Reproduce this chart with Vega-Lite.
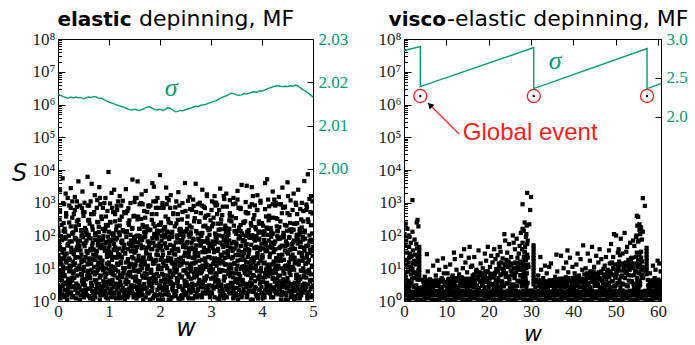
{
  "$schema": "https://vega.github.io/schema/vega-lite/v6.json",
  "background": "white",
  "padding": {"left": 11, "top": 8, "right": 0, "bottom": 0},
  "bounds": "flush",
  "spacing": 91,
  "config": {
    "view": {"stroke": null},
    "axis": {
      "grid": false,
      "domainColor": "#000",
      "domainWidth": 1,
      "tickColor": "#000",
      "tickWidth": 1,
      "labelFont": "Liberation Serif",
      "labelFontSize": 17,
      "labelColor": "#222",
      "labelFlush": false,
      "labelOverlap": false,
      "labelBound": false,
      "titleFont": "DejaVu Sans",
      "titleFontStyle": "italic",
      "titleFontWeight": "normal",
      "titleFontSize": 24,
      "titleColor": "#000"
    }
  },
  "hconcat": [
    {
      "width": 255,
      "height": 262,
      "layer": [
        {
          "layer": [
            {
              "data": {
                "values": "w,S\n0,3.1\n0,160\n0.01,24\n0.01,1.4\n0.02,1.9\n0.02,62\n0.03,8.5\n0.03,310\n0.04,45\n0.04,2.3\n0.05,1.2\n0.05,17\n0.06,5.6\n0.06,95\n0.07,13\n0.07,1.6\n0.08,72\n0.08,4.2\n0.09,2.8\n0.09,30\n0.1,11\n0.1,7.4\n0.11,1.5\n0.11,240\n0.12,38\n0.12,19\n0.13,6.2\n0.13,1.3\n0.14,2.1\n0.14,130\n0.15,90\n0.15,3.3\n0.16,15\n0.16,480\n0.17,3.7\n0.17,28\n0.18,1.1\n0.18,10\n0.19,52\n0.19,2\n0.2,4.8\n0.2,55\n0.21,20\n0.21,3.9\n0.22,1.7\n0.22,820\n0.23,66\n0.23,12\n0.24,9.3\n0.24,1.8\n0.25,2.6\n0.25,190\n0.26,31\n0.26,42\n0.27,1.3\n0.27,5.1\n0.28,115\n0.28,350\n0.29,7\n0.29,16\n0.3,1.4\n0.3,125\n0.31,27\n0.31,8\n0.32,5.2\n0.32,2.7\n0.33,14\n0.33,600\n0.34,2.2\n0.34,21\n0.35,80\n0.35,1.2\n0.36,3.4\n0.36,75\n0.37,43\n0.37,270\n0.38,10\n0.38,6\n0.39,1.8\n0.39,36\n0.4,57\n0.4,3\n0.41,2.5\n0.41,210\n0.42,12\n0.42,48\n0.43,1.1\n0.43,9.5\n0.44,35\n0.44,1.5\n0.45,6.8\n0.45,140\n0.46,98\n0.46,26\n0.47,4.1\n0.47,700\n0.48,18\n0.48,4.6\n0.49,1.6\n0.49,88\n0.5,8.2\n0.5,400\n0.51,1.3\n0.51,11\n0.52,47\n0.52,1.7\n0.53,3\n0.53,170\n0.54,22\n0.54,60\n0.55,1.9\n0.55,2.2\n0.56,70\n0.56,33\n0.57,5.7\n0.57,105\n0.58,13\n0.58,7.8\n0.59,2.4\n0.59,290\n0.6,105\n0.6,14\n0.61,6.4\n0.61,1.4\n0.62,16\n0.62,230\n0.63,1.2\n0.63,5\n0.64,39\n0.64,82\n0.65,3.6\n0.65,450\n0.66,9\n0.66,2.9\n0.67,2\n0.67,19\n0.68,61\n0.68,150\n0.69,26\n0.69,1.1\n0.7,1.5\n0.7,37\n0.71,11\n0.71,520\n0.72,4.4\n0.72,6.5\n0.73,73\n0.73,1.3\n0.74,2.3\n0.74,115\n0.75,29\n0.75,24\n0.76,7.2\n0.76,3.2\n0.77,1.8\n0.77,260\n0.78,50\n0.78,9\n0.79,15\n0.79,68\n0.8,3.3\n0.8,180\n0.81,88\n0.81,2.4\n0.82,1.1\n0.82,45\n0.83,21\n0.83,900\n0.84,6\n0.84,10\n0.85,41\n0.85,1.9\n0.86,2.7\n0.86,320\n0.87,12\n0.87,17\n0.88,1.6\n0.88,78\n0.89,95\n0.89,4\n0.9,9.8\n0.9,1.5\n0.91,2.1\n0.91,135\n0.92,34\n0.92,7\n0.93,5.3\n0.93,58\n0.94,1.3\n0.94,380\n0.95,64\n0.95,3\n0.96,14\n0.96,22\n0.97,3.8\n0.97,1.2\n0.98,25\n0.98,200\n0.99,1.7\n0.99,40\n1,68\n1,15\n1.01,9\n1.01,50\n1.02,260\n1.02,1.8\n1.03,3.2\n1.03,7.2\n1.04,24\n1.04,29\n1.05,115\n1.05,2.3\n1.06,1.3\n1.06,73\n1.07,6.5\n1.07,4.4\n1.08,520\n1.08,11\n1.09,37\n1.09,1.5\n1.1,36\n1.1,1.8\n1.11,6\n1.11,10\n1.12,270\n1.12,43\n1.13,75\n1.13,3.4\n1.14,1.2\n1.14,80\n1.15,21\n1.15,2.2\n1.16,600\n1.16,14\n1.17,2.7\n1.17,5.2\n1.18,8\n1.18,27\n1.19,125\n1.19,1.4\n1.2,40\n1.2,1.7\n1.21,200\n1.21,25\n1.22,1.2\n1.22,3.8\n1.23,22\n1.23,14\n1.24,3\n1.24,64\n1.25,380\n1.25,1.3\n1.26,58\n1.26,5.3\n1.27,7\n1.27,34\n1.28,135\n1.28,2.1\n1.29,1.5\n1.29,9.8\n1.3,2\n1.3,52\n1.31,10\n1.31,1.1\n1.32,28\n1.32,3.7\n1.33,480\n1.33,15\n1.34,3.3\n1.34,90\n1.35,130\n1.35,2.1\n1.36,1.3\n1.36,6.2\n1.37,19\n1.37,38\n1.38,240\n1.38,1.5\n1.39,7.4\n1.39,11\n1.4,290\n1.4,2.4\n1.41,7.8\n1.41,13\n1.42,105\n1.42,5.7\n1.43,33\n1.43,70\n1.44,2.2\n1.44,1.9\n1.45,60\n1.45,22\n1.46,170\n1.46,3\n1.47,1.7\n1.47,47\n1.48,11\n1.48,1.3\n1.49,400\n1.49,8.2\n1.5,30\n1.5,2.8\n1.51,4.2\n1.51,72\n1.52,1.6\n1.52,13\n1.53,95\n1.53,5.6\n1.54,17\n1.54,1.2\n1.55,2.3\n1.55,45\n1.56,310\n1.56,8.5\n1.57,62\n1.57,1.9\n1.58,1.4\n1.58,24\n1.59,160\n1.59,3.1\n1.6,4\n1.6,95\n1.61,78\n1.61,1.6\n1.62,17\n1.62,12\n1.63,320\n1.63,2.7\n1.64,1.9\n1.64,41\n1.65,10\n1.65,6\n1.66,900\n1.66,21\n1.67,45\n1.67,1.1\n1.68,2.4\n1.68,88\n1.69,180\n1.69,3.3\n1.7,16\n1.7,7\n1.71,350\n1.71,115\n1.72,5.1\n1.72,1.3\n1.73,42\n1.73,31\n1.74,190\n1.74,2.6\n1.75,1.8\n1.75,9.3\n1.76,12\n1.76,66\n1.77,820\n1.77,1.7\n1.78,3.9\n1.78,20\n1.79,55\n1.79,4.8\n1.8,1.1\n1.8,26\n1.81,150\n1.81,61\n1.82,19\n1.82,2\n1.83,2.9\n1.83,9\n1.84,450\n1.84,3.6\n1.85,82\n1.85,39\n1.86,5\n1.86,1.2\n1.87,230\n1.87,16\n1.88,1.4\n1.88,6.4\n1.89,14\n1.89,105\n1.9,88\n1.9,1.6\n1.91,4.6\n1.91,18\n1.92,700\n1.92,4.1\n1.93,26\n1.93,98\n1.94,140\n1.94,6.8\n1.95,1.5\n1.95,35\n1.96,9.5\n1.96,1.1\n1.97,48\n1.97,12\n1.98,210\n1.98,2.5\n1.99,3\n1.99,57\n2,1.6\n2,3\n2.01,18\n2.01,210\n2.02,4.1\n2.02,48\n2.03,98\n2.03,9.5\n2.04,6.8\n2.04,1.5\n2.05,35\n2.05,140\n2.06,1.1\n2.06,26\n2.07,12\n2.07,700\n2.08,2.5\n2.08,4.6\n2.09,57\n2.09,88\n2.1,95\n2.1,180\n2.11,1.6\n2.11,2.4\n2.12,12\n2.12,45\n2.13,2.7\n2.13,900\n2.14,41\n2.14,10\n2.15,6\n2.15,1.9\n2.16,21\n2.16,320\n2.17,1.1\n2.17,17\n2.18,88\n2.18,78\n2.19,3.3\n2.19,4\n2.2,52\n2.2,7.4\n2.21,1.1\n2.21,240\n2.22,3.7\n2.22,19\n2.23,15\n2.23,1.3\n2.24,90\n2.24,130\n2.25,2.1\n2.25,3.3\n2.26,6.2\n2.26,480\n2.27,38\n2.27,28\n2.28,1.5\n2.28,10\n2.29,11\n2.29,2\n2.3,26\n2.3,14\n2.31,61\n2.31,1.4\n2.32,2\n2.32,230\n2.33,9\n2.33,5\n2.34,3.6\n2.34,82\n2.35,39\n2.35,450\n2.36,1.2\n2.36,2.9\n2.37,16\n2.37,19\n2.38,6.4\n2.38,150\n2.39,105\n2.39,1.1\n2.4,2.8\n2.4,160\n2.41,72\n2.41,1.4\n2.42,13\n2.42,62\n2.43,5.6\n2.43,310\n2.44,1.2\n2.44,2.3\n2.45,45\n2.45,17\n2.46,8.5\n2.46,95\n2.47,1.9\n2.47,1.6\n2.48,24\n2.48,4.2\n2.49,3.1\n2.49,30\n2.5,1.7\n2.5,1.5\n2.51,25\n2.51,135\n2.52,3.8\n2.52,7\n2.53,14\n2.53,58\n2.54,64\n2.54,380\n2.55,1.3\n2.55,3\n2.56,5.3\n2.56,22\n2.57,34\n2.57,1.2\n2.58,2.1\n2.58,200\n2.59,9.8\n2.59,40\n2.6,1.8\n2.6,125\n2.61,10\n2.61,8\n2.62,43\n2.62,2.7\n2.63,3.4\n2.63,600\n2.64,80\n2.64,21\n2.65,2.2\n2.65,1.2\n2.66,14\n2.66,75\n2.67,5.2\n2.67,270\n2.68,27\n2.68,6\n2.69,1.4\n2.69,36\n2.7,15\n2.7,37\n2.71,50\n2.71,520\n2.72,1.8\n2.72,6.5\n2.73,7.2\n2.73,1.3\n2.74,29\n2.74,115\n2.75,2.3\n2.75,24\n2.76,73\n2.76,3.2\n2.77,4.4\n2.77,260\n2.78,11\n2.78,9\n2.79,1.5\n2.79,68\n2.8,7\n2.8,55\n2.81,115\n2.81,3.9\n2.82,1.3\n2.82,820\n2.83,31\n2.83,12\n2.84,2.6\n2.84,1.8\n2.85,9.3\n2.85,190\n2.86,66\n2.86,42\n2.87,1.7\n2.87,5.1\n2.88,20\n2.88,350\n2.89,4.8\n2.89,16\n2.9,2.4\n2.9,400\n2.91,13\n2.91,11\n2.92,5.7\n2.92,1.7\n2.93,70\n2.93,170\n2.94,1.9\n2.94,60\n2.95,22\n2.95,2.2\n2.96,3\n2.96,33\n2.97,47\n2.97,105\n2.98,1.3\n2.98,7.8\n2.99,8.2\n2.99,290\n3,4.8\n3,12\n3.01,20\n3.01,1.8\n3.02,1.7\n3.02,190\n3.03,66\n3.03,42\n3.04,9.3\n3.04,5.1\n3.05,2.6\n3.05,350\n3.06,31\n3.06,16\n3.07,1.3\n3.07,55\n3.08,115\n3.08,3.9\n3.09,7\n3.09,820\n3.1,105\n3.1,5\n3.11,6.4\n3.11,82\n3.12,16\n3.12,450\n3.13,1.2\n3.13,2.9\n3.14,39\n3.14,19\n3.15,3.6\n3.15,150\n3.16,9\n3.16,1.1\n3.17,2\n3.17,14\n3.18,61\n3.18,1.4\n3.19,26\n3.19,230\n3.2,3.1\n3.2,310\n3.21,24\n3.21,2.3\n3.22,1.9\n3.22,17\n3.23,8.5\n3.23,95\n3.24,45\n3.24,1.6\n3.25,1.2\n3.25,4.2\n3.26,5.6\n3.26,30\n3.27,13\n3.27,160\n3.28,72\n3.28,1.4\n3.29,2.8\n3.29,62\n3.3,8.2\n3.3,170\n3.31,1.3\n3.31,60\n3.32,47\n3.32,2.2\n3.33,3\n3.33,33\n3.34,22\n3.34,105\n3.35,1.9\n3.35,7.8\n3.36,70\n3.36,290\n3.37,5.7\n3.37,400\n3.38,13\n3.38,11\n3.39,2.4\n3.39,1.7\n3.4,9.8\n3.4,58\n3.41,2.1\n3.41,380\n3.42,34\n3.42,3\n3.43,5.3\n3.43,22\n3.44,1.3\n3.44,1.2\n3.45,64\n3.45,200\n3.46,14\n3.46,40\n3.47,3.8\n3.47,1.5\n3.48,25\n3.48,135\n3.49,1.7\n3.49,7\n3.5,57\n3.5,9.5\n3.51,2.5\n3.51,1.5\n3.52,12\n3.52,140\n3.53,1.1\n3.53,26\n3.54,35\n3.54,700\n3.55,6.8\n3.55,4.6\n3.56,98\n3.56,88\n3.57,4.1\n3.57,3\n3.58,18\n3.58,210\n3.59,1.6\n3.59,48\n3.6,1.5\n3.6,1.3\n3.61,11\n3.61,115\n3.62,4.4\n3.62,24\n3.63,73\n3.63,3.2\n3.64,2.3\n3.64,260\n3.65,29\n3.65,9\n3.66,7.2\n3.66,68\n3.67,1.8\n3.67,37\n3.68,50\n3.68,520\n3.69,15\n3.69,6.5\n3.7,11\n3.7,1.3\n3.71,1.5\n3.71,130\n3.72,38\n3.72,3.3\n3.73,6.2\n3.73,480\n3.74,2.1\n3.74,28\n3.75,90\n3.75,10\n3.76,15\n3.76,2\n3.77,3.7\n3.77,7.4\n3.78,1.1\n3.78,240\n3.79,52\n3.79,19\n3.8,3.3\n3.8,900\n3.81,88\n3.81,10\n3.82,1.1\n3.82,1.9\n3.83,21\n3.83,320\n3.84,6\n3.84,17\n3.85,41\n3.85,78\n3.86,2.7\n3.86,4\n3.87,12\n3.87,180\n3.88,1.6\n3.88,2.4\n3.89,95\n3.89,45\n3.9,1.4\n3.9,600\n3.91,27\n3.91,21\n3.92,5.2\n3.92,1.2\n3.93,14\n3.93,75\n3.94,2.2\n3.94,270\n3.95,80\n3.95,6\n3.96,3.4\n3.96,36\n3.97,43\n3.97,125\n3.98,10\n3.98,8\n3.99,1.8\n3.99,2.7\n4,1.7\n4,22\n4.01,25\n4.01,1.2\n4.02,3.8\n4.02,200\n4.03,14\n4.03,40\n4.04,64\n4.04,1.5\n4.05,1.3\n4.05,135\n4.06,5.3\n4.06,7\n4.07,34\n4.07,58\n4.08,2.1\n4.08,380\n4.09,9.8\n4.09,3\n4.1,2.4\n4.1,33\n4.11,13\n4.11,105\n4.12,5.7\n4.12,7.8\n4.13,70\n4.13,290\n4.14,1.9\n4.14,400\n4.15,22\n4.15,11\n4.16,3\n4.16,1.7\n4.17,47\n4.17,170\n4.18,1.3\n4.18,60\n4.19,8.2\n4.19,2.2\n4.2,7\n4.2,42\n4.21,115\n4.21,5.1\n4.22,1.3\n4.22,350\n4.23,31\n4.23,16\n4.24,2.6\n4.24,55\n4.25,9.3\n4.25,3.9\n4.26,66\n4.26,820\n4.27,1.7\n4.27,12\n4.28,20\n4.28,1.8\n4.29,4.8\n4.29,190\n4.3,95\n4.3,320\n4.31,1.6\n4.31,17\n4.32,12\n4.32,78\n4.33,2.7\n4.33,4\n4.34,41\n4.34,180\n4.35,6\n4.35,2.4\n4.36,21\n4.36,45\n4.37,1.1\n4.37,900\n4.38,88\n4.38,10\n4.39,3.3\n4.39,1.9\n4.4,1.6\n4.4,26\n4.41,18\n4.41,700\n4.42,4.1\n4.42,4.6\n4.43,98\n4.43,88\n4.44,6.8\n4.44,3\n4.45,35\n4.45,210\n4.46,1.1\n4.46,48\n4.47,12\n4.47,9.5\n4.48,2.5\n4.48,1.5\n4.49,57\n4.49,140\n4.5,52\n4.5,480\n4.51,1.1\n4.51,28\n4.52,3.7\n4.52,10\n4.53,15\n4.53,2\n4.54,90\n4.54,7.4\n4.55,2.1\n4.55,240\n4.56,6.2\n4.56,19\n4.57,38\n4.57,1.3\n4.58,1.5\n4.58,130\n4.59,11\n4.59,3.3\n4.6,26\n4.6,2.9\n4.61,61\n4.61,19\n4.62,2\n4.62,150\n4.63,9\n4.63,1.1\n4.64,3.6\n4.64,14\n4.65,39\n4.65,1.4\n4.66,1.2\n4.66,230\n4.67,16\n4.67,5\n4.68,6.4\n4.68,82\n4.69,105\n4.69,450\n4.7,2.8\n4.7,95\n4.71,72\n4.71,1.6\n4.72,13\n4.72,4.2\n4.73,5.6\n4.73,30\n4.74,1.2\n4.74,160\n4.75,45\n4.75,1.4\n4.76,8.5\n4.76,62\n4.77,1.9\n4.77,310\n4.78,24\n4.78,2.3\n4.79,3.1\n4.79,17\n4.8,1.8\n4.8,75\n4.81,10\n4.81,270\n4.82,43\n4.82,6\n4.83,3.4\n4.83,36\n4.84,80\n4.84,125\n4.85,2.2\n4.85,8\n4.86,14\n4.86,2.7\n4.87,5.2\n4.87,600\n4.88,27\n4.88,21\n4.89,1.4\n4.89,1.2\n4.9,15\n4.9,3.2\n4.91,50\n4.91,260\n4.92,1.8\n4.92,9\n4.93,7.2\n4.93,68\n4.94,29\n4.94,37\n4.95,2.3\n4.95,520\n4.96,73\n4.96,6.5\n4.97,4.4\n4.97,1.3\n4.98,11\n4.98,115\n4.99,1.5\n4.99,24\n5,3\n5,45\n0,112\n0.01,4.8\n0.02,60\n0.03,14\n0.04,2.5\n0.05,2\n0.06,38\n0.07,7.3\n0.08,20\n0.09,3.1\n0.1,9.5\n0.11,137\n0.12,5.7\n0.13,25\n0.14,2.2\n0.15,80\n0.16,3.5\n0.17,17\n0.18,1.5\n0.19,49\n0.2,2.7\n0.21,98\n0.22,8\n0.23,18\n0.24,3.4\n0.25,11.5\n0.26,1.8\n0.27,66\n0.28,4.2\n0.29,31\n0.3,5\n0.31,12.6\n0.32,2.8\n0.33,85\n0.34,36\n0.35,147\n0.36,9\n0.37,22\n0.38,1.7\n0.39,55\n0.4,41\n0.41,10\n0.42,2.5\n0.43,70\n0.44,21\n0.45,2.1\n0.46,15.4\n0.47,6.2\n0.48,102\n0.49,3.2\n0.5,57\n0.51,3.8\n0.52,17\n0.53,2.2\n0.54,133\n0.55,4.6\n0.56,123\n0.57,1.5\n0.58,29\n0.59,8.4\n0.6,90\n0.61,20\n0.62,5.3\n0.63,35\n0.64,2.4\n0.65,13.7\n0.66,2.9\n0.67,48\n0.68,7.4\n0.69,1.8\n0.7,1.7\n0.71,7.8\n0.72,18\n0.73,100\n0.74,3.9\n0.75,4.3\n0.76,34\n0.77,2.7\n0.78,12\n0.79,63\n0.8,126\n0.81,21\n0.82,5.2\n0.83,1.5\n0.84,73\n0.85,15\n0.86,2.1\n0.87,53\n0.88,8.7\n0.89,2.9\n0.9,3.6\n0.91,43\n0.92,1.8\n0.93,160\n0.94,9.8\n0.95,6.7\n0.96,28\n0.97,2.4\n0.98,92\n0.99,13\n1,31\n1.01,4.2\n1.02,66\n1.03,1.8\n1.04,11.5\n1.05,3.4\n1.06,18\n1.07,8\n1.08,98\n1.09,2.7\n1.1,55\n1.11,1.7\n1.12,22\n1.13,9\n1.14,147\n1.15,36\n1.16,85\n1.17,2.8\n1.18,12.6\n1.19,5\n1.2,3.2\n1.21,102\n1.22,6.2\n1.23,15.4\n1.24,2.1\n1.25,21\n1.26,70\n1.27,2.5\n1.28,10\n1.29,41\n1.3,8.4\n1.31,29\n1.32,1.5\n1.33,123\n1.34,4.6\n1.35,133\n1.36,2.2\n1.37,17\n1.38,3.8\n1.39,57\n1.4,1.8\n1.41,7.4\n1.42,48\n1.43,2.9\n1.44,13.7\n1.45,2.4\n1.46,35\n1.47,5.3\n1.48,20\n1.49,90\n1.5,63\n1.51,12\n1.52,2.7\n1.53,34\n1.54,4.3\n1.55,3.9\n1.56,100\n1.57,18\n1.58,7.8\n1.59,1.7\n1.6,2.9\n1.61,8.7\n1.62,53\n1.63,2.1\n1.64,15\n1.65,73\n1.66,1.5\n1.67,5.2\n1.68,21\n1.69,126\n1.7,13\n1.71,92\n1.72,2.4\n1.73,28\n1.74,6.7\n1.75,9.8\n1.76,160\n1.77,1.8\n1.78,43\n1.79,3.6\n1.8,3.1\n1.81,20\n1.82,7.3\n1.83,38\n1.84,2\n1.85,2.5\n1.86,14\n1.87,60\n1.88,4.8\n1.89,112\n1.9,49\n1.91,1.5\n1.92,17\n1.93,3.5\n1.94,80\n1.95,2.2\n1.96,25\n1.97,5.7\n1.98,137\n1.99,9.5\n2,41\n2.01,10\n2.02,2.5\n2.03,70\n2.04,21\n2.05,2.1\n2.06,15.4\n2.07,6.2\n2.08,102\n2.09,3.2\n2.1,57\n2.11,3.8\n2.12,17\n2.13,2.2\n2.14,133\n2.15,4.6\n2.16,123\n2.17,1.5\n2.18,29\n2.19,8.4\n2.2,90\n2.21,20\n2.22,5.3\n2.23,35\n2.24,2.4\n2.25,13.7\n2.26,2.9\n2.27,48\n2.28,7.4\n2.29,1.8\n2.3,1.7\n2.31,7.8\n2.32,18\n2.33,100\n2.34,3.9\n2.35,4.3\n2.36,34\n2.37,2.7\n2.38,12\n2.39,63\n2.4,126\n2.41,21\n2.42,5.2\n2.43,1.5\n2.44,73\n2.45,15\n2.46,2.1\n2.47,53\n2.48,8.7\n2.49,2.9\n2.5,3.6\n2.51,43\n2.52,1.8\n2.53,160\n2.54,9.8\n2.55,6.7\n2.56,28\n2.57,2.4\n2.58,92\n2.59,13\n2.6,112\n2.61,4.8\n2.62,60\n2.63,14\n2.64,2.5\n2.65,2\n2.66,38\n2.67,7.3\n2.68,20\n2.69,3.1\n2.7,9.5\n2.71,137\n2.72,5.7\n2.73,25\n2.74,2.2\n2.75,80\n2.76,3.5\n2.77,17\n2.78,1.5\n2.79,49\n2.8,2.7\n2.81,98\n2.82,8\n2.83,18\n2.84,3.4\n2.85,11.5\n2.86,1.8\n2.87,66\n2.88,4.2\n2.89,31\n2.9,5\n2.91,12.6\n2.92,2.8\n2.93,85\n2.94,36\n2.95,147\n2.96,9\n2.97,22\n2.98,1.7\n2.99,55\n3,1.8\n3.01,7.4\n3.02,48\n3.03,2.9\n3.04,13.7\n3.05,2.4\n3.06,35\n3.07,5.3\n3.08,20\n3.09,90\n3.1,63\n3.11,12\n3.12,2.7\n3.13,34\n3.14,4.3\n3.15,3.9\n3.16,100\n3.17,18\n3.18,7.8\n3.19,1.7\n3.2,2.9\n3.21,8.7\n3.22,53\n3.23,2.1\n3.24,15\n3.25,73\n3.26,1.5\n3.27,5.2\n3.28,21\n3.29,126\n3.3,13\n3.31,92\n3.32,2.4\n3.33,28\n3.34,6.7\n3.35,9.8\n3.36,160\n3.37,1.8\n3.38,43\n3.39,3.6\n3.4,3.1\n3.41,20\n3.42,7.3\n3.43,38\n3.44,2\n3.45,2.5\n3.46,14\n3.47,60\n3.48,4.8\n3.49,112\n3.5,49\n3.51,1.5\n3.52,17\n3.53,3.5\n3.54,80\n3.55,2.2\n3.56,25\n3.57,5.7\n3.58,137\n3.59,9.5\n3.6,31\n3.61,4.2\n3.62,66\n3.63,1.8\n3.64,11.5\n3.65,3.4\n3.66,18\n3.67,8\n3.68,98\n3.69,2.7\n3.7,55\n3.71,1.7\n3.72,22\n3.73,9\n3.74,147\n3.75,36\n3.76,85\n3.77,2.8\n3.78,12.6\n3.79,5\n3.8,3.2\n3.81,102\n3.82,6.2\n3.83,15.4\n3.84,2.1\n3.85,21\n3.86,70\n3.87,2.5\n3.88,10\n3.89,41\n3.9,8.4\n3.91,29\n3.92,1.5\n3.93,123\n3.94,4.6\n3.95,133\n3.96,2.2\n3.97,17\n3.98,3.8\n3.99,57\n4,126\n4.01,21\n4.02,5.2\n4.03,1.5\n4.04,73\n4.05,15\n4.06,2.1\n4.07,53\n4.08,8.7\n4.09,2.9\n4.1,3.6\n4.11,43\n4.12,1.8\n4.13,160\n4.14,9.8\n4.15,6.7\n4.16,28\n4.17,2.4\n4.18,92\n4.19,13\n4.2,112\n4.21,4.8\n4.22,60\n4.23,14\n4.24,2.5\n4.25,2\n4.26,38\n4.27,7.3\n4.28,20\n4.29,3.1\n4.3,9.5\n4.31,137\n4.32,5.7\n4.33,25\n4.34,2.2\n4.35,80\n4.36,3.5\n4.37,17\n4.38,1.5\n4.39,49\n4.4,2.7\n4.41,98\n4.42,8\n4.43,18\n4.44,3.4\n4.45,11.5\n4.46,1.8\n4.47,66\n4.48,4.2\n4.49,31\n4.5,5\n4.51,12.6\n4.52,2.8\n4.53,85\n4.54,36\n4.55,147\n4.56,9\n4.57,22\n4.58,1.7\n4.59,55\n4.6,41\n4.61,10\n4.62,2.5\n4.63,70\n4.64,21\n4.65,2.1\n4.66,15.4\n4.67,6.2\n4.68,102\n4.69,3.2\n4.7,57\n4.71,3.8\n4.72,17\n4.73,2.2\n4.74,133\n4.75,4.6\n4.76,123\n4.77,1.5\n4.78,29\n4.79,8.4\n4.8,90\n4.81,20\n4.82,5.3\n4.83,35\n4.84,2.4\n4.85,13.7\n4.86,2.9\n4.87,48\n4.88,7.4\n4.89,1.8\n4.9,1.7\n4.91,7.8\n4.92,18\n4.93,100\n4.94,3.9\n4.95,4.3\n4.96,34\n4.97,2.7\n4.98,12\n4.99,63\n0.01,130\n0.04,560\n0.07,210\n0.1,980\n0.13,160\n0.16,380\n0.19,1400\n0.22,250\n0.25,700\n0.28,115\n0.31,450\n0.34,190\n0.37,1100\n0.4,300\n0.43,820\n0.46,145\n0.49,520\n0.52,520\n0.55,145\n0.58,820\n0.61,300\n0.64,1100\n0.67,190\n0.7,450\n0.73,115\n0.76,700\n0.79,250\n0.82,1400\n0.85,380\n0.88,160\n0.91,980\n0.94,210\n0.97,560\n1,130\n1.03,250\n1.06,700\n1.09,115\n1.12,450\n1.15,190\n1.18,1100\n1.21,300\n1.24,820\n1.27,145\n1.3,520\n1.33,130\n1.36,560\n1.39,210\n1.42,980\n1.45,160\n1.48,380\n1.51,1400\n1.54,1400\n1.57,380\n1.6,160\n1.63,980\n1.66,210\n1.69,560\n1.72,130\n1.75,520\n1.78,145\n1.81,820\n1.84,300\n1.87,1100\n1.9,190\n1.93,450\n1.96,115\n1.99,700\n2.02,250\n2.05,980\n2.08,160\n2.11,380\n2.14,1400\n2.17,250\n2.2,700\n2.23,115\n2.26,450\n2.29,190\n2.32,1100\n2.35,300\n2.38,820\n2.41,145\n2.44,520\n2.47,130\n2.5,560\n2.53,240\n2.56,105\n2.59,640\n2.62,175\n2.65,1250\n2.68,340\n2.71,135\n2.74,900\n2.77,270\n2.8,480\n2.83,120\n2.86,760\n2.89,200\n2.92,1600\n2.95,420\n2.98,155\n3.01,600\n3.04,230\n3.07,1000\n3.1,1000\n3.13,230\n3.16,600\n3.19,155\n3.22,420\n3.25,1600\n3.28,200\n3.31,760\n3.34,120\n3.37,480\n3.4,270\n3.43,900\n3.46,135\n3.49,340\n3.52,1250\n3.55,175\n3.58,640\n3.61,105\n3.64,240\n3.67,270\n3.7,480\n3.73,120\n3.76,760\n3.79,200\n3.82,1600\n3.85,420\n3.88,155\n3.91,600\n3.94,230\n3.97,1000\n4,240\n4.03,105\n4.06,640\n4.09,175\n4.12,1250\n4.15,340\n4.18,135\n4.21,900\n4.24,1250\n4.27,340\n4.3,135\n4.33,900\n4.36,270\n4.39,480\n4.42,120\n4.45,760\n4.48,200\n4.51,1600\n4.54,420\n4.57,155\n4.6,600\n4.63,230\n4.66,1000\n4.69,240\n4.72,105\n4.75,640\n4.78,175\n4.81,560\n4.84,140\n4.87,880\n4.9,310\n4.93,1300\n4.96,205\n4.99,470\n0.09,5600\n0.58,6200\n0.4,4500\n0.66,3800\n0.99,8700\n1.1,2500\n1.46,5100\n1.56,4500\n1.85,4000\n2,7000\n2.49,4000\n2.7,3800\n3.6,3500\n3.7,3300\n4.06,4000\n4.1,5200\n4.5,4200\n4.83,4600\n4.9,7400\n0.15,1900\n0.25,2800\n0.33,1500\n0.48,2200\n0.72,1700\n0.81,3000\n0.93,1400\n1.05,2000\n1.21,1600\n1.33,2600\n1.64,1800\n1.72,2300\n1.95,1400\n2.12,2900\n2.21,1700\n2.36,2100\n2.58,1500\n2.83,2500\n2.92,1800\n3.07,1600\n3.18,2700\n3.3,1900\n3.44,1400\n3.52,2300\n3.8,3000\n3.91,1700\n4.21,2200\n4.33,1500\n4.4,2900\n4.62,1900\n4.71,2500\n4.96,1600\n0.04,2400\n1.88,3100\n3.26,1300\n0.12,900\n0.28,1100\n0.37,750\n0.52,1000\n0.61,820\n0.77,1200\n0.88,700\n1.02,950\n1.15,800\n1.27,1150\n1.38,680\n1.5,1050\n1.6,900\n1.78,760\n1.92,1100\n2.05,850\n2.17,1200\n2.3,720\n2.44,980\n2.55,1150\n2.66,800\n2.78,1000\n2.88,690\n3.02,1100\n3.12,870\n3.23,760\n3.37,1200\n3.48,940\n3.58,700\n3.68,1050\n3.86,830\n3.97,1150\n4.14,780\n4.27,1000\n4.45,720\n4.56,1180\n4.67,860\n4.78,990\n4.88,740\n4.99,1100",
                "format": {"type": "csv", "parse": {"w": "number", "S": "number"}}
              },
              "mark": {"type": "point", "shape": "square", "filled": true, "size": 18, "color": "#000", "opacity": 1, "strokeWidth": 0, "clip": true},
              "encoding": {
                "x": {
                  "field": "w", "type": "quantitative",
                  "scale": {"domain": [0, 5], "nice": false, "zero": false},
                  "axis": {"orient": "bottom", "values": [0, 1, 2, 3, 4, 5], "tickSize": -6, "labelPadding": 8.5, "title": "w", "titleBaseline": "middle", "titleY": 27}
                },
                "y": {
                  "field": "S", "type": "quantitative",
                  "scale": {"type": "log", "domain": [1, 100000000], "nice": false},
                  "axis": {
                    "orient": "left",
                    "values": [1,2,3,4,5,6,7,8,9,10,20,30,40,50,60,70,80,90,100,200,300,400,500,600,700,800,900,1000,2000,3000,4000,5000,6000,7000,8000,9000,10000,20000,30000,40000,50000,60000,70000,80000,90000,100000,200000,300000,400000,500000,600000,700000,800000,900000,1000000,2000000,3000000,4000000,5000000,6000000,7000000,8000000,9000000,10000000,20000000,30000000,40000000,50000000,60000000,70000000,80000000,90000000,100000000],
                    "labelExpr": "abs(log(datum.value)/LN10-round(log(datum.value)/LN10))<0.001 ? '10'+['⁰','¹','²','³','⁴','⁵','⁶','⁷','⁸'][round(log(datum.value)/LN10)] : ''",
                    "tickSize": {"condition": {"test": "abs(log(datum.value)/LN10-round(log(datum.value)/LN10))<0.001", "value": -7}, "value": -3.5},
                    "labelPadding": 10,
                    "title": "S",
                    "titleAngle": 0,
                    "titleAlign": "center",
                    "titleBaseline": "middle",
                    "titleX": -39,
                    "titleY": 134
                  }
                }
              }
            },
            {
              "data": {"values": [{}]},
              "mark": {"type": "text", "font": "DejaVu Sans", "fontWeight": "bold", "fontSize": 20, "align": "right", "baseline": "alphabetic", "dx": -2.5, "color": "#000"},
              "encoding": {
                "x": {"datum": 1.49, "type": "quantitative", "scale": {"domain": [0, 5], "nice": false, "zero": false}},
                "y": {"datum": 249000000, "type": "quantitative", "scale": {"type": "log", "domain": [1, 100000000], "nice": false}},
                "text": {"value": "elastic"}
              }
            },
            {
              "data": {"values": [{}]},
              "mark": {"type": "text", "font": "DejaVu Sans", "fontSize": 22, "align": "left", "baseline": "alphabetic", "dx": 5, "color": "#000"},
              "encoding": {
                "x": {"datum": 1.49, "type": "quantitative", "scale": {"domain": [0, 5], "nice": false, "zero": false}},
                "y": {"datum": 249000000, "type": "quantitative", "scale": {"type": "log", "domain": [1, 100000000], "nice": false}},
                "text": {"value": "depinning, MF"}
              }
            }
          ]
        },
        {
          "layer": [
            {
              "data": {"values": [
                {"w":0,"sigma":2.0172},{"w":0.05,"sigma":2.017},{"w":0.1,"sigma":2.0167},{"w":0.15,"sigma":2.0165},{"w":0.2,"sigma":2.0163},{"w":0.25,"sigma":2.0166},{"w":0.3,"sigma":2.0164},{"w":0.35,"sigma":2.0166},{"w":0.4,"sigma":2.0164},{"w":0.45,"sigma":2.0165},
                {"w":0.5,"sigma":2.0162},{"w":0.55,"sigma":2.0164},{"w":0.6,"sigma":2.0166},{"w":0.65,"sigma":2.0165},{"w":0.7,"sigma":2.0167},{"w":0.75,"sigma":2.0166},{"w":0.8,"sigma":2.0163},{"w":0.85,"sigma":2.0164},{"w":0.9,"sigma":2.016},{"w":0.95,"sigma":2.0157},
                {"w":1,"sigma":2.0154},{"w":1.05,"sigma":2.0152},{"w":1.1,"sigma":2.015},{"w":1.15,"sigma":2.0148},{"w":1.2,"sigma":2.0146},{"w":1.25,"sigma":2.0144},{"w":1.3,"sigma":2.0142},{"w":1.35,"sigma":2.0139},{"w":1.4,"sigma":2.0137},{"w":1.45,"sigma":2.0136},
                {"w":1.5,"sigma":2.0138},{"w":1.55,"sigma":2.0136},{"w":1.6,"sigma":2.0135},{"w":1.65,"sigma":2.0137},{"w":1.7,"sigma":2.014},{"w":1.75,"sigma":2.0143},{"w":1.8,"sigma":2.0143},{"w":1.85,"sigma":2.014},{"w":1.9,"sigma":2.0137},{"w":1.95,"sigma":2.0136},
                {"w":2,"sigma":2.0138},{"w":2.05,"sigma":2.0135},{"w":2.1,"sigma":2.0137},{"w":2.15,"sigma":2.0141},{"w":2.2,"sigma":2.014},{"w":2.25,"sigma":2.0136},{"w":2.3,"sigma":2.0132},{"w":2.35,"sigma":2.0133},{"w":2.4,"sigma":2.0135},{"w":2.45,"sigma":2.0134},
                {"w":2.5,"sigma":2.0137},{"w":2.55,"sigma":2.0139},{"w":2.6,"sigma":2.014},{"w":2.65,"sigma":2.0143},{"w":2.7,"sigma":2.0145},{"w":2.75,"sigma":2.0144},{"w":2.8,"sigma":2.0147},{"w":2.85,"sigma":2.0148},{"w":2.9,"sigma":2.0149},{"w":2.95,"sigma":2.0152},
                {"w":3,"sigma":2.0153},{"w":3.05,"sigma":2.0156},{"w":3.1,"sigma":2.0157},{"w":3.15,"sigma":2.0161},{"w":3.2,"sigma":2.0164},{"w":3.25,"sigma":2.0167},{"w":3.3,"sigma":2.0169},{"w":3.35,"sigma":2.0172},{"w":3.4,"sigma":2.0175},{"w":3.45,"sigma":2.0174},
                {"w":3.5,"sigma":2.0171},{"w":3.55,"sigma":2.017},{"w":3.6,"sigma":2.0171},{"w":3.65,"sigma":2.0174},{"w":3.7,"sigma":2.0173},{"w":3.75,"sigma":2.0175},{"w":3.8,"sigma":2.0177},{"w":3.85,"sigma":2.0178},{"w":3.9,"sigma":2.0177},{"w":3.95,"sigma":2.018},
                {"w":4,"sigma":2.018},{"w":4.05,"sigma":2.0182},{"w":4.1,"sigma":2.0185},{"w":4.15,"sigma":2.0187},{"w":4.2,"sigma":2.0189},{"w":4.25,"sigma":2.0191},{"w":4.3,"sigma":2.0192},{"w":4.35,"sigma":2.0191},{"w":4.4,"sigma":2.019},{"w":4.45,"sigma":2.0191},
                {"w":4.5,"sigma":2.019},{"w":4.55,"sigma":2.0192},{"w":4.6,"sigma":2.0191},{"w":4.65,"sigma":2.0193},{"w":4.7,"sigma":2.0192},{"w":4.75,"sigma":2.0187},{"w":4.8,"sigma":2.0183},{"w":4.85,"sigma":2.018},{"w":4.9,"sigma":2.0176},{"w":4.95,"sigma":2.0171},
                {"w":5,"sigma":2.0166}
              ]},
              "mark": {"type": "line", "color": "#009E73", "strokeWidth": 1.4},
              "encoding": {
                "x": {
                  "field": "w", "type": "quantitative",
                  "scale": {"domain": [0, 5], "nice": false, "zero": false},
                  "axis": {"orient": "top", "values": [0, 1, 2, 3, 4, 5], "labels": false, "tickSize": -6, "title": null}
                },
                "y": {
                  "field": "sigma", "type": "quantitative",
                  "scale": {"domain": [1.9695, 2.03], "nice": false, "zero": false},
                  "axis": {"orient": "right", "values": [2, 2.01, 2.02, 2.03], "format": ".2f", "tickSize": -6, "labelPadding": 11, "labelColor": "#009E73", "title": null}
                }
              }
            },
            {
              "data": {"values": [{}]},
              "mark": {"type": "text", "font": "Liberation Serif", "fontStyle": "italic", "fontSize": 26, "align": "center", "baseline": "middle", "color": "#009E73"},
              "encoding": {
                "x": {"datum": 2.22, "type": "quantitative", "scale": {"domain": [0, 5], "nice": false, "zero": false}},
                "y": {"datum": 2.0187, "type": "quantitative", "scale": {"domain": [1.9695, 2.03], "nice": false, "zero": false}},
                "text": {"value": "σ"}
              }
            }
          ]
        }
      ],
      "resolve": {"scale": {"x": "independent", "y": "independent"}, "axis": {"x": "independent", "y": "independent"}}
    },
    {
      "width": 257,
      "height": 262,
      "layer": [
        {
          "layer": [
            {
              "data": {
                "values": "w,S\n0.3,1.1\n0.3,1.5\n0.3,2\n1.2,1.15\n1.2,1.45\n1.2,2.1\n2.1,1.2\n2.1,1.55\n2.1,1.95\n3,1.12\n3,1.5\n3,2.05\n3.9,1.1\n3.9,1.5\n3.9,2\n4.8,1.15\n4.8,1.45\n4.8,2.1\n5.7,1.2\n5.7,1.55\n5.7,1.95\n6.6,1.12\n6.6,1.5\n6.6,2.05\n7.5,1.1\n7.5,1.5\n7.5,2\n8.4,1.15\n8.4,1.45\n8.4,2.1\n9.3,1.2\n9.3,1.55\n9.3,1.95\n10.2,1.12\n10.2,1.5\n10.2,2.05\n11.1,1.1\n11.1,1.5\n11.1,2\n12,1.15\n12,1.45\n12,2.1\n12.9,1.2\n12.9,1.55\n12.9,1.95\n13.8,1.12\n13.8,1.5\n13.8,2.05\n14.7,1.1\n14.7,1.5\n14.7,2\n15.6,1.15\n15.6,1.45\n15.6,2.1\n16.5,1.2\n16.5,1.55\n16.5,1.95\n17.4,1.12\n17.4,1.5\n17.4,2.05\n18.3,1.1\n18.3,1.5\n18.3,2\n19.2,1.15\n19.2,1.45\n19.2,2.1\n20.1,1.2\n20.1,1.55\n20.1,1.95\n21,1.12\n21,1.5\n21,2.05\n21.9,1.1\n21.9,1.5\n21.9,2\n22.8,1.15\n22.8,1.45\n22.8,2.1\n23.7,1.2\n23.7,1.55\n23.7,1.95\n24.6,1.12\n24.6,1.5\n24.6,2.05\n25.5,1.1\n25.5,1.5\n25.5,2\n26.4,1.15\n26.4,1.45\n26.4,2.1\n27.3,1.2\n27.3,1.55\n27.3,1.95\n28.2,1.12\n28.2,1.5\n28.2,2.05\n29.1,1.1\n29.1,1.5\n29.1,2\n30,1.15\n30,1.45\n30,2.1\n30.9,1.2\n30.9,1.55\n30.9,1.95\n31.8,1.12\n31.8,1.5\n31.8,2.05\n32.7,1.1\n32.7,1.5\n32.7,2\n33.6,1.15\n33.6,1.45\n33.6,2.1\n34.5,1.2\n34.5,1.55\n34.5,1.95\n35.4,1.12\n35.4,1.5\n35.4,2.05\n36.3,1.1\n36.3,1.5\n36.3,2\n37.2,1.15\n37.2,1.45\n37.2,2.1\n38.1,1.2\n38.1,1.55\n38.1,1.95\n39,1.12\n39,1.5\n39,2.05\n39.9,1.1\n39.9,1.5\n39.9,2\n40.8,1.15\n40.8,1.45\n40.8,2.1\n41.7,1.2\n41.7,1.55\n41.7,1.95\n42.6,1.12\n42.6,1.5\n42.6,2.05\n43.5,1.1\n43.5,1.5\n43.5,2\n44.4,1.15\n44.4,1.45\n44.4,2.1\n45.3,1.2\n45.3,1.55\n45.3,1.95\n46.2,1.12\n46.2,1.5\n46.2,2.05\n47.1,1.1\n47.1,1.5\n47.1,2\n48,1.15\n48,1.45\n48,2.1\n48.9,1.2\n48.9,1.55\n48.9,1.95\n49.8,1.12\n49.8,1.5\n49.8,2.05\n50.7,1.1\n50.7,1.5\n50.7,2\n51.6,1.15\n51.6,1.45\n51.6,2.1\n52.5,1.2\n52.5,1.55\n52.5,1.95\n53.4,1.12\n53.4,1.5\n53.4,2.05\n54.3,1.1\n54.3,1.5\n54.3,2\n55.2,1.15\n55.2,1.45\n55.2,2.1\n56.1,1.2\n56.1,1.55\n56.1,1.95\n57,1.12\n57,1.5\n57,2.05\n57.9,1.1\n57.9,1.5\n57.9,2\n58.8,1.15\n58.8,1.45\n58.8,2.1\n59.7,1.2\n59.7,1.55\n59.7,1.95\n60.6,1.12\n60.6,1.5\n60.6,2.05\n0.3,1.75\n1.2,1.7\n2.1,1.8\n3,1.75\n3.9,1.7\n4.8,1.8\n5.7,1.75\n6.6,1.7\n7.5,1.8\n8.4,1.75\n9.3,1.7\n10.2,1.8\n11.1,1.75\n12,1.7\n12.9,1.8\n13.8,1.75\n14.7,1.7\n15.6,1.8\n16.5,1.75\n17.4,1.7\n18.3,1.8\n19.2,1.75\n20.1,1.7\n21,1.8\n21.9,1.75\n22.8,1.7\n23.7,1.8\n24.6,1.75\n25.5,1.7\n26.4,1.8\n27.3,1.75\n28.2,1.7\n29.1,1.8\n30,1.75\n30.9,1.7\n31.8,1.8\n32.7,1.75\n33.6,1.7\n34.5,1.8\n35.4,1.75\n36.3,1.7\n37.2,1.8\n38.1,1.75\n39,1.7\n39.9,1.8\n40.8,1.75\n41.7,1.7\n42.6,1.8\n43.5,1.75\n44.4,1.7\n45.3,1.8\n46.2,1.75\n47.1,1.7\n48,1.8\n48.9,1.75\n49.8,1.7\n50.7,1.8\n51.6,1.75\n52.5,1.7\n53.4,1.8\n54.3,1.75\n55.2,1.7\n56.1,1.8\n57,1.75\n57.9,1.7\n58.8,1.8\n59.7,1.75\n60.6,1.7\n0.1,3.2\n0.4,5.5\n0.6,2.6\n0.9,8\n1.1,4\n1.3,2.9\n1.6,6.5\n1.8,3.5\n2,9.5\n2.3,2.7\n2.5,5\n2.7,7.5\n2.9,3\n3.2,4.5\n3.4,2.5\n0.2,7\n1,2.5\n1.9,4.8\n3,6\n0.2,18\n0.5,12\n0.7,30\n1,15\n1.2,45\n1.5,22\n1.7,11\n2.1,35\n2.4,17\n2.6,26\n2.8,13\n3.1,40\n3.3,20\n0.3,48\n1.4,28\n2.2,14\n0.1,110\n0.5,70\n0.8,160\n1.3,90\n1.6,60\n2,130\n2.5,75\n2.9,55\n3,250\n3.2,300\n3.4,190\n0.4,230\n1.1,100\n2,1200\n3.6,4.5\n3.6,5.6\n3.6,7.1\n3.6,8.9\n3.6,11\n3.6,14\n3.6,18\n3.6,22\n3.6,28\n3.6,35\n3.6,45\n4.7,2.8\n5.1,3.5\n5.5,2.6\n5.9,3.9\n6.3,3\n6.8,2.5\n7.2,3.7\n7.7,2.9\n8.1,3.3\n8.6,2.6\n9.1,4\n9.6,3.1\n5.3,2.5\n7,3.2\n4.9,5.5\n5.6,8\n6.1,4.6\n6.9,12\n7.5,6\n8.3,9\n8.9,5\n9.4,7\n9.8,11\n6.5,4.2\n5.4,27\n7.9,17\n9.2,20\n10.1,3\n10.4,4.5\n10.7,2.7\n11,3.8\n11.3,2.5\n11.6,4.8\n11.9,3.2\n12.2,2.9\n12.6,4.2\n12.9,2.6\n13.3,3.6\n13.6,5\n14,2.8\n14.3,4\n14.7,3.3\n15,2.5\n15.4,4.6\n15.7,3\n10.3,7\n10.9,13\n11.5,6\n12,19\n12.4,9\n13,6.5\n13.5,24\n13.9,10\n14.5,15\n14.9,7.5\n15.3,21\n15.8,11\n11.8,30\n14.2,38\n15.5,45\n16,3.5\n16.2,6\n16.5,2.7\n16.7,4.5\n17,7.5\n17.2,3\n17.5,5.5\n17.7,2.5\n18,4\n18.2,7\n18.5,3.3\n18.7,5\n19,2.6\n19.2,6.5\n19.5,3.8\n19.7,8\n20,2.9\n20.2,4.8\n20.5,6.8\n20.7,3.2\n21,5.2\n21.2,2.5\n21.5,7.2\n21.7,4.2\n16.1,12\n16.6,22\n17.1,9\n17.6,35\n18.1,14\n18.6,10\n19.1,28\n19.4,17\n19.8,45\n20.3,11\n20.6,24\n20.9,15\n21.3,38\n21.6,19\n21.8,9.5\n22,3\n22.2,8\n22.3,5\n22.5,12\n22.7,2.6\n22.9,6.5\n23,15\n23.2,4\n23.4,9.5\n23.6,2.8\n23.8,13\n24,5.5\n24.1,7\n24.3,3.5\n24.5,11\n24.7,16\n24.9,4.5\n25,2.5\n25.2,8.5\n25.4,6\n25.6,14\n25.8,3.2\n26,10\n26.1,5\n26.3,15\n26.5,7.5\n26.7,2.9\n26.9,12\n27,4.2\n27.2,9\n27.4,16\n27.5,6\n27.7,3.8\n27.8,11\n23.1,3.4\n25.5,2.7\n22.1,25\n22.6,45\n23.3,20\n23.9,70\n24.4,30\n24.8,55\n25.3,22\n25.7,100\n26.2,38\n26.6,80\n27.1,28\n27.6,120\n22.8,32\n24.2,18\n25.9,60\n26.8,21\n27.3,48\n23.7,110\n28,5\n28.1,14\n28.2,3\n28.3,22\n28.4,8\n28.5,30\n28.6,4\n28.7,11\n28.8,18\n28.9,2.6\n29,7\n29.1,26\n29.2,3.6\n29.3,13\n27.9,9\n28.5,32\n28.7,5.5\n28.1,16\n28.2,6.5\n28.9,10\n28,60\n28.3,140\n28.6,45\n28.8,90\n29,200\n29.2,70\n27.9,38\n28.9,110\n28.5,250\n29.1,55\n28,160\n28,900\n29.1,2000\n30,1500\n29.8,600\n29.6,220\n30.6,3.2\n30.6,4\n30.6,5\n30.6,6.3\n30.6,8\n30.6,10\n30.6,12.6\n30.6,16\n30.6,20\n30.6,25\n30.6,32\n30.6,40\n30.6,50\n31.5,3.9\n31.9,3\n32.3,2.5\n32.7,3.7\n33.1,2.9\n33.6,3.3\n34,2.6\n34.5,4\n34.9,3.1\n35.4,2.5\n35.9,3.2\n36.4,2.8\n32.1,3.5\n33.8,2.6\n31.7,6\n32.4,9\n32.9,5\n33.7,7\n34.3,11\n35.1,4.2\n35.7,5.5\n36.2,8\n36.6,4.6\n33.3,12\n32.2,22\n34.7,14\n36,26\n36.9,4.8\n37.2,3.2\n37.5,2.9\n37.8,4.2\n38.1,2.6\n38.4,3.6\n38.7,5\n39,2.8\n39.4,4\n39.7,3.3\n40.1,2.5\n40.4,4.6\n40.8,3\n41.1,3\n41.5,4.5\n41.8,2.7\n42.2,3.8\n42.5,2.5\n37.1,24\n37.7,10\n38.3,15\n38.8,7.5\n39.2,21\n39.8,11\n40.3,7\n40.7,13\n41.3,6\n41.7,19\n42.1,9\n42.6,6.5\n38.6,35\n41,28\n42.3,50\n42.8,2.5\n43,4\n43.3,7\n43.5,3.3\n43.8,5\n44,2.6\n44.3,6.5\n44.5,3.8\n44.8,8\n45,2.9\n45.3,4.8\n45.5,6.8\n45.8,3.2\n46,5.2\n46.3,2.5\n46.5,7.2\n46.8,4.2\n47,3.5\n47.3,6\n47.5,2.7\n47.8,4.5\n48,7.5\n48.3,3\n48.5,5.5\n42.9,10\n43.4,28\n43.9,17\n44.4,45\n44.9,11\n45.4,24\n45.9,15\n46.2,38\n46.6,19\n47.1,9.5\n47.4,12\n47.7,22\n48.1,9\n48.4,35\n48.6,14\n48.8,2.6\n49,6.5\n49.1,15\n49.3,4\n49.5,9.5\n49.7,2.8\n49.8,13\n50,5.5\n50.2,7\n50.4,3.5\n50.6,11\n50.8,16\n50.9,4.5\n51.1,2.5\n51.3,8.5\n51.5,6\n51.7,14\n51.8,3.2\n52,10\n52.2,5\n52.4,15\n52.6,7.5\n52.8,2.9\n52.9,12\n53.1,4.2\n53.3,9\n53.5,16\n53.7,6\n53.8,3.8\n54,11\n54.2,3.4\n54.3,2.7\n54.5,3\n54.6,8\n49.9,5\n52.3,12\n48.9,55\n49.4,22\n50.1,100\n50.7,38\n51.2,80\n51.6,28\n52.1,120\n52.5,32\n53,18\n53.4,60\n53.9,21\n54.4,48\n49.6,110\n51,25\n52.7,45\n53.6,20\n54.1,70\n50.5,30\n54.8,22\n54.9,8\n55,30\n55.1,4\n55.2,11\n55.3,18\n55.4,2.6\n55.5,7\n55.6,26\n55.7,3.6\n55.8,13\n55.9,9\n56,32\n56.1,5.5\n56.2,16\n56.3,6.5\n56.4,10\n56.5,5\n55,14\n55.7,3\n54.8,90\n55.1,200\n55.4,70\n55.6,150\n55.8,110\n56,160\n56.2,75\n56.4,130\n55.3,65\n55.9,180\n54.9,100\n55,400\n55.3,370\n56.4,1380\n56.9,800\n55.6,220\n57.3,6.6\n57.3,8.3\n57.3,10.5\n57.3,13\n57.3,16.5\n57.3,21\n57.3,26\n57.3,33\n57.3,42\n57.7,3\n58,2.6\n58.3,4.2\n58.6,3.3\n58.9,2.8\n59.2,5\n59.5,3.6\n59.8,2.5\n60.1,4.5\n60.4,3\n60.6,3.8\n58.1,7\n58.8,12\n59.4,9\n59.9,17\n60.3,14\n60.6,8\n0.2,5\n0.6,18\n1,3.3\n1.4,11\n1.8,24\n2.2,7\n2.6,2.7\n3,15\n3.4,9\n4.2,2.6\n4.6,3.8\n5,3.1\n5.4,4.3\n5.8,2.8\n6.2,3.5\n6.6,2.5\n7,4\n7.4,3.3\n7.8,2.9\n8.2,3.7\n8.6,4.4\n9,2.6\n9.4,3.8\n9.8,3.1\n10.2,2.7\n10.6,4.8\n11,3.4\n11.4,5.3\n11.8,3\n12.2,4.1\n12.6,2.5\n13,5\n13.4,3.7\n13.8,4.5\n14.2,2.9\n14.6,3.9\n15,2.7\n15.4,4.8\n15.8,3.4\n16.2,3.2\n16.6,6.5\n17,2.6\n17.4,5\n17.8,7.5\n18.2,3.9\n18.6,2.9\n19,6\n19.4,4.5\n19.8,8\n20.2,3.5\n20.6,5.5\n21,3.2\n21.4,6.5\n21.8,2.6\n22.2,4\n22.6,10\n23,2.8\n23.4,7\n23.8,13\n24.2,3.4\n24.6,5.5\n25,12\n25.4,8.5\n25.8,3\n26.2,6.2\n26.6,14\n27,4\n27.4,10\n27.8,2.8\n28.2,5\n28.6,18\n29,3.3\n29.4,11\n31,2.6\n31.4,3.8\n31.8,3.1\n32.2,4.3\n32.6,2.8\n33,3.5\n33.4,2.5\n33.8,4\n34.2,3.3\n34.6,2.9\n35,3.7\n35.4,4.4\n35.8,2.6\n36.2,3.8\n36.6,3.1\n37,2.7\n37.4,4.8\n37.8,3.4\n38.2,5.3\n38.6,3\n39,4.1\n39.4,2.5\n39.8,5\n40.2,3.7\n40.6,4.5\n41,2.9\n41.4,3.9\n41.8,2.7\n42.2,4.8\n42.6,3.4\n43,3.2\n43.4,6.5\n43.8,2.6\n44.2,5\n44.6,7.5\n45,3.9\n45.4,2.9\n45.8,6\n46.2,4.5\n46.6,8\n47,3.5\n47.4,5.5\n47.8,3.2\n48.2,6.5\n48.6,2.6\n49,4\n49.4,10\n49.8,2.8\n50.2,7\n50.6,13\n51,3.4\n51.4,5.5\n51.8,12\n52.2,8.5\n52.6,3\n53,6.2\n53.4,14\n53.8,4\n54.2,10\n54.6,2.8\n55,5\n55.4,18\n55.8,3.3\n56.2,11\n57.8,2.6\n58.2,3.8\n58.6,3.1\n59,4.3\n59.4,2.8\n59.8,3.5\n60.2,2.5\n60.6,4\n0.4,13\n0.8,4.2\n1.2,21\n1.6,9\n2,15\n2.4,2.7\n2.8,7\n3.2,24\n4.4,4.4\n4.8,3.7\n5.2,2.9\n5.6,3.3\n6,4\n6.4,2.5\n6.8,3.5\n7.2,2.8\n7.6,4.3\n8,3.1\n8.4,3.8\n8.8,2.6\n9.2,4.4\n9.6,3.7\n10,2.9\n10.4,3.9\n10.8,2.9\n11.2,4.5\n11.6,3.7\n12,5\n12.4,2.5\n12.8,4.1\n13.2,3\n13.6,5.3\n14,3.4\n14.4,4.8\n14.8,2.7\n15.2,3.9\n15.6,2.9\n16,4.5\n16.4,5.5\n16.8,3.5\n17.2,8\n17.6,4.5\n18,6\n18.4,2.9\n18.8,3.9\n19.2,7.5\n19.6,5\n20,2.6\n20.4,6.5\n20.8,3.2\n21.2,5.5\n21.6,3.5\n22,8\n22.4,14\n22.8,6.2\n23.2,3\n23.6,8.5\n24,12\n24.4,5.5\n24.8,3.4\n25.2,13\n25.6,7\n26,2.8\n26.4,10\n26.8,4\n27.2,14\n27.6,6.2\n28,3\n28.4,13\n28.8,4.2\n29.2,21\n31.2,4.4\n31.6,3.7\n32,2.9\n32.4,3.3\n32.8,4\n33.2,2.5\n33.6,3.5\n34,2.8\n34.4,4.3\n34.8,3.1\n35.2,3.8\n35.6,2.6\n36,4.4\n36.4,3.7\n36.8,2.9\n37.2,3.9\n37.6,2.9\n38,4.5\n38.4,3.7\n38.8,5\n39.2,2.5\n39.6,4.1\n40,3\n40.4,5.3\n40.8,3.4\n41.2,4.8\n41.6,2.7\n42,3.9\n42.4,2.9\n42.8,4.5\n43.2,5.5\n43.6,3.5\n44,8\n44.4,4.5\n44.8,6\n45.2,2.9\n45.6,3.9\n46,7.5\n46.4,5\n46.8,2.6\n47.2,6.5\n47.6,3.2\n48,5.5\n48.4,3.5\n48.8,8\n49.2,14\n49.6,6.2\n50,3\n50.4,8.5\n50.8,12\n51.2,5.5\n51.6,3.4\n52,13\n52.4,7\n52.8,2.8\n53.2,10\n53.6,4\n54,14\n54.4,6.2\n54.8,3\n55.2,13\n55.6,4.2\n56,21\n56.4,9\n57.6,4.4\n58,3.7\n58.4,2.9\n58.8,3.3\n59.2,4\n59.6,2.5\n60,3.5\n60.4,2.8",
                "format": {"type": "csv", "parse": {"w": "number", "S": "number"}}
              },
              "mark": {"type": "point", "shape": "square", "filled": true, "size": 18, "color": "#000", "opacity": 1, "strokeWidth": 0, "clip": true},
              "encoding": {
                "x": {
                  "field": "w", "type": "quantitative",
                  "scale": {"domain": [0, 60.7], "nice": false, "zero": false},
                  "axis": {"orient": "bottom", "values": [0, 10, 20, 30, 40, 50, 60], "tickSize": -6, "labelPadding": 8.5, "title": "w", "titleFontSize": 22, "titleBaseline": "middle", "titleY": 32}
                },
                "y": {
                  "field": "S", "type": "quantitative",
                  "scale": {"type": "log", "domain": [1, 100000000], "nice": false},
                  "axis": {
                    "orient": "left",
                    "values": [1,2,3,4,5,6,7,8,9,10,20,30,40,50,60,70,80,90,100,200,300,400,500,600,700,800,900,1000,2000,3000,4000,5000,6000,7000,8000,9000,10000,20000,30000,40000,50000,60000,70000,80000,90000,100000,200000,300000,400000,500000,600000,700000,800000,900000,1000000,2000000,3000000,4000000,5000000,6000000,7000000,8000000,9000000,10000000,20000000,30000000,40000000,50000000,60000000,70000000,80000000,90000000,100000000],
                    "labelExpr": "abs(log(datum.value)/LN10-round(log(datum.value)/LN10))<0.001 ? '10'+['⁰','¹','²','³','⁴','⁵','⁶','⁷','⁸'][round(log(datum.value)/LN10)] : ''",
                    "tickSize": {"condition": {"test": "abs(log(datum.value)/LN10-round(log(datum.value)/LN10))<0.001", "value": -7}, "value": -3.5},
                    "labelPadding": 10,
                    "title": null
                  }
                }
              }
            },
            {
              "data": {"values": [{"w": 3.85, "S": 1820000}, {"w": 30.65, "S": 1820000}, {"w": 57.4, "S": 1820000}]},
              "mark": {"type": "point", "shape": "circle", "filled": true, "size": 6, "color": "#000", "opacity": 1, "strokeWidth": 0},
              "encoding": {
                "x": {"field": "w", "type": "quantitative", "scale": {"domain": [0, 60.7], "nice": false, "zero": false}},
                "y": {"field": "S", "type": "quantitative", "scale": {"type": "log", "domain": [1, 100000000], "nice": false}}
              }
            },
            {
              "data": {"values": [{"w": 3.85, "S": 1820000}, {"w": 30.65, "S": 1820000}, {"w": 57.4, "S": 1820000}]},
              "mark": {"type": "point", "shape": "circle", "filled": false, "size": 170, "color": "#ff1a1a", "opacity": 1, "strokeWidth": 1.3},
              "encoding": {
                "x": {"field": "w", "type": "quantitative", "scale": {"domain": [0, 60.7], "nice": false, "zero": false}},
                "y": {"field": "S", "type": "quantitative", "scale": {"type": "log", "domain": [1, 100000000], "nice": false}}
              }
            },
            {
              "data": {"values": [{}]},
              "mark": {"type": "rule", "color": "#ff1a1a", "strokeWidth": 1.2},
              "encoding": {
                "x": {"datum": 13.0, "type": "quantitative", "scale": {"domain": [0, 60.7], "nice": false, "zero": false}},
                "y": {"datum": 125600, "type": "quantitative", "scale": {"type": "log", "domain": [1, 100000000], "nice": false}},
                "x2": {"datum": 5.67},
                "y2": {"datum": 1110000}
              }
            },
            {
              "data": {"values": [{}]},
              "mark": {"type": "point", "shape": "triangle-up", "filled": true, "size": 45, "angle": 315, "color": "#000", "opacity": 1, "strokeWidth": 0},
              "encoding": {
                "x": {"datum": 6.14, "type": "quantitative", "scale": {"domain": [0, 60.7], "nice": false, "zero": false}},
                "y": {"datum": 966000, "type": "quantitative", "scale": {"type": "log", "domain": [1, 100000000], "nice": false}}
              }
            },
            {
              "data": {"values": [{}]},
              "mark": {"type": "text", "font": "Liberation Sans", "fontSize": 24, "align": "left", "baseline": "middle", "color": "#ff1a1a"},
              "encoding": {
                "x": {"datum": 13.9, "type": "quantitative", "scale": {"domain": [0, 60.7], "nice": false, "zero": false}},
                "y": {"datum": 135000, "type": "quantitative", "scale": {"type": "log", "domain": [1, 100000000], "nice": false}},
                "text": {"value": "Global event"}
              }
            },
            {
              "data": {"values": [{}]},
              "mark": {"type": "text", "font": "DejaVu Sans", "fontWeight": "bold", "fontSize": 20, "align": "right", "baseline": "alphabetic", "dx": 0, "color": "#000"},
              "encoding": {
                "x": {"datum": 9.92, "type": "quantitative", "scale": {"domain": [0, 60.7], "nice": false, "zero": false}},
                "y": {"datum": 249000000, "type": "quantitative", "scale": {"type": "log", "domain": [1, 100000000], "nice": false}},
                "text": {"value": "visco"}
              }
            },
            {
              "data": {"values": [{}]},
              "mark": {"type": "text", "font": "DejaVu Sans", "fontSize": 22, "align": "left", "baseline": "alphabetic", "dx": 1, "color": "#000"},
              "encoding": {
                "x": {"datum": 9.92, "type": "quantitative", "scale": {"domain": [0, 60.7], "nice": false, "zero": false}},
                "y": {"datum": 249000000, "type": "quantitative", "scale": {"type": "log", "domain": [1, 100000000], "nice": false}},
                "text": {"value": "-elastic depinning, MF"}
              }
            }
          ]
        },
        {
          "layer": [
            {
              "data": {"values": [
                {"i": 0, "w": 0, "sigma": 2.852},
                {"i": 1, "w": 3.85, "sigma": 2.903},
                {"i": 2, "w": 3.85, "sigma": 2.387},
                {"i": 3, "w": 30.65, "sigma": 2.89},
                {"i": 4, "w": 30.65, "sigma": 2.361},
                {"i": 5, "w": 57.4, "sigma": 2.877},
                {"i": 6, "w": 57.4, "sigma": 2.361},
                {"i": 7, "w": 60.7, "sigma": 2.426}
              ]},
              "mark": {"type": "line", "color": "#009E73", "strokeWidth": 1.4},
              "encoding": {
                "x": {
                  "field": "w", "type": "quantitative",
                  "scale": {"domain": [0, 60.7], "nice": false, "zero": false},
                  "axis": {"orient": "top", "values": [0, 10, 20, 30, 40, 50, 60], "labels": false, "tickSize": -6, "title": null}
                },
                "y": {
                  "field": "sigma", "type": "quantitative",
                  "scale": {"domain": [-0.374, 3], "nice": false, "zero": false},
                  "axis": {"orient": "right", "values": [2, 2.5, 3], "format": ".1f", "tickSize": -6, "labelPadding": 11, "labelColor": "#009E73", "title": null}
                },
                "order": {"field": "i", "type": "quantitative"}
              }
            },
            {
              "data": {"values": [{}]},
              "mark": {"type": "text", "font": "Liberation Serif", "fontStyle": "italic", "fontSize": 26, "align": "center", "baseline": "middle", "color": "#009E73"},
              "encoding": {
                "x": {"datum": 35.7, "type": "quantitative", "scale": {"domain": [0, 60.7], "nice": false, "zero": false}},
                "y": {"datum": 2.717, "type": "quantitative", "scale": {"domain": [-0.374, 3], "nice": false, "zero": false}},
                "text": {"value": "σ"}
              }
            }
          ]
        }
      ],
      "resolve": {"scale": {"x": "independent", "y": "independent"}, "axis": {"x": "independent", "y": "independent"}}
    }
  ]
}
